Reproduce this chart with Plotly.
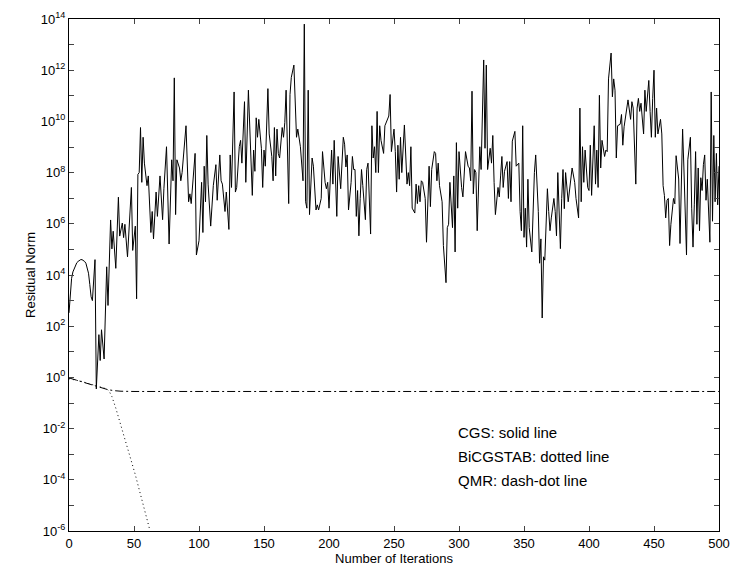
import plotly.graph_objects as go

# ---------------- data (log10 of residual norm) ----------------
cgs_iter = [0,1,2,3,4,5,6,7,8,9,10,11,12,13,14,15,16,17,18,20,21,23,24,25,27,29,30,32,33,34,36,38,39,41,42,43,45,48,49,51,52,53,54,55,56,57,58,60,61,63,64,65,67,68,70,72,73,75,77,79,80,81,82,83,85,86,87,88,90,92,93,94,95,97,98,100,102,103,104,105,106,107,109,111,113,114,116,117,118,120,121,123,124,125,127,128,129,131,132,133,135,136,138,140,141,142,143,144,145,146,148,149,150,151,153,154,156,157,158,159,160,161,162,164,165,166,167,169,170,171,172,173,175,176,178,180,181,182,183,184,185,187,188,190,191,192,194,195,197,198,199,200,202,203,204,206,207,209,211,212,213,214,215,217,218,219,220,221,222,223,224,225,226,228,229,230,232,233,234,235,236,237,238,239,240,242,243,245,246,247,248,250,251,252,253,254,255,256,258,260,261,262,263,264,266,267,268,269,270,271,272,274,275,277,278,279,281,282,283,284,285,287,288,290,291,292,293,295,296,297,298,299,300,302,303,305,307,308,309,310,311,312,313,314,316,317,319,320,321,322,324,325,326,327,328,330,331,332,333,334,335,337,338,339,340,341,343,344,346,347,348,349,350,351,352,353,354,356,357,358,359,360,361,362,363,364,365,366,368,369,370,371,373,374,375,376,378,379,380,381,382,384,385,387,389,390,392,393,394,395,396,397,399,400,401,402,404,405,406,407,408,409,410,412,413,414,415,417,418,419,420,421,422,424,425,426,427,429,430,432,433,434,436,437,438,439,440,442,443,444,445,446,447,448,449,450,451,452,453,455,456,457,458,459,460,461,462,463,465,466,467,469,470,471,472,473,474,475,476,478,479,480,481,482,483,484,485,486,487,488,489,490,491,492,493,494,495,496,497,498,499,500]
cgs_log10 = [2.52,3.39,3.87,4.12,4.26,4.38,4.48,4.53,4.58,4.60,4.60,4.58,4.53,4.46,4.31,4.07,3.63,3.15,3.0,4.60,-0.45,1.67,0.66,1.86,0.72,4.32,2.81,6.15,5.02,5.71,4.26,7.04,5.52,6.03,5.46,5.98,4.71,7.42,4.96,5.91,3.07,7.93,8.0,9.76,7.62,9.38,8.37,7.49,7.87,5.66,6.48,5.41,7.24,6.29,7.87,6.16,7.37,9.01,5.21,8.50,7.68,11.7,6.36,8.50,8.18,7.68,8.0,8.75,9.83,6.86,7.17,6.79,7.37,8.75,4.78,5.34,7.62,5.66,8.25,6.86,9.45,7.55,5.91,7.49,8.31,6.92,8.69,7.68,7.55,6.48,7.24,5.78,8.69,7.42,11.15,7.24,7.42,9.02,9.26,8.37,10.77,7.62,11.22,8.0,7.11,8.88,8.05,10.14,9.38,10.08,8.95,7.42,8.88,8.25,11.28,9.51,8.63,7.68,9.76,7.87,9.70,8.75,8.57,9.76,9.38,9.96,11.22,6.79,11.05,11.72,11.92,12.2,9.38,9.70,9.01,7.68,13.8,6.86,6.61,11.22,6.36,8.57,8.25,6.54,6.74,6.54,6.99,8.82,7.62,7.37,7.62,6.61,8.88,7.55,9.26,6.29,8.63,7.37,9.38,9.11,8.22,8.69,6.54,7.62,8.63,8.12,8.12,6.29,7.30,5.53,6.99,8.12,7.49,6.16,8.12,8.37,5.60,9.83,8.57,9.01,8.0,10.39,8.0,9.83,9.26,8.75,9.83,10.14,10.21,11.05,8.82,9.70,8.82,7.24,9.07,7.74,9.38,8.0,9.86,7.55,8.0,7.49,9.01,6.61,6.42,7.55,6.79,7.49,6.86,7.68,7.62,6.99,5.28,8.25,6.67,8.12,8.82,8.75,7.68,8.37,7.49,6.86,5.15,3.70,5.85,5.98,7.62,5.85,7.87,4.90,9.17,6.61,8.82,7.42,7.05,8.82,8.25,8.18,7.68,11.18,7.17,8.12,8.0,5.73,9.01,8.12,12.4,8.95,12.2,8.12,8.95,8.37,9.45,7.62,6.36,7.42,7.05,7.87,8.63,7.42,8.05,8.43,6.99,8.43,6.86,9.23,9.61,8.25,8.37,6.48,5.73,9.83,5.47,6.61,5.09,7.74,5.85,4.90,6.74,8.0,8.69,7.49,6.48,4.46,5.41,2.32,4.71,4.58,7.37,6.48,5.73,6.23,6.99,6.48,5.53,8.0,5.03,6.99,8.12,6.59,8.0,6.86,7.37,8.18,7.62,6.99,6.23,10.52,6.86,9.01,7.62,8.88,7.42,7.30,9.07,7.11,9.83,7.55,8.88,7.42,11.02,8.18,9.26,8.63,8.88,8.82,11.66,12.67,10.96,11.66,11.22,8.57,9.83,9.89,10.27,9.07,9.79,10.52,10.84,10.08,10.77,10.52,7.55,10.52,10.90,10.39,10.71,9.51,11.22,10.39,10.96,11.6,10.39,9.38,10.90,12.0,9.38,10.52,9.51,10.08,9.51,7.49,7.11,6.23,6.92,6.99,5.15,5.98,6.99,6.78,8.66,7.75,5.23,8.37,9.70,8.18,6.61,4.78,8.50,9.38,6.61,5.09,6.74,8.82,5.98,8.18,5.73,7.80,7.30,8.31,8.69,6.92,7.74,6.48,5.28,11.15,6.10,9.45,6.86,8.75,6.74,8.25]

bicg_iter = [0,5,10,15,20,25,29,31,33,36,39,42,45,48,51,54,57,60,62]
bicg_log10 = [-0.05,-0.1,-0.16,-0.24,-0.32,-0.4,-0.45,-0.55,-0.75,-1.2,-1.7,-2.2,-2.75,-3.27,-3.8,-4.38,-4.95,-5.55,-5.93]

qmr_iter = [0,5,10,15,20,25,30,35,40,50,100,150,200,250,300,350,400,450,500]
qmr_log10 = [-0.02,-0.1,-0.18,-0.26,-0.34,-0.42,-0.48,-0.52,-0.54,-0.55,-0.55,-0.55,-0.55,-0.55,-0.55,-0.55,-0.55,-0.55,-0.55]

x_ticks = [0, 50, 100, 150, 200, 250, 300, 350, 400, 450, 500]
y_exponents = list(range(-6, 15))
legend_lines = ["CGS: solid line", "BiCGSTAB: dotted line", "QMR: dash-dot line"]
legend_log10_y = [-2.16, -3.1, -4.04]
legend_x = 298

FONT = "Liberation Sans, Arial, Helvetica, sans-serif"

fig = go.Figure()
fig.add_trace(go.Scatter(x=cgs_iter, y=[10 ** v for v in cgs_log10], mode="lines",
                         line=dict(color="black", width=1), showlegend=False))
fig.add_trace(go.Scatter(x=bicg_iter, y=[10 ** v for v in bicg_log10], mode="lines",
                         line=dict(color="black", width=1, dash="1px,3px"), showlegend=False))
fig.add_trace(go.Scatter(x=qmr_iter, y=[10 ** v for v in qmr_log10], mode="lines",
                         line=dict(color="black", width=1, dash="8px,3px,2px,3px"), showlegend=False))

ytext = [("10<sup>%d</sup>" % e) if e % 2 == 0 else "" for e in y_exponents]

fig.update_xaxes(range=[0, 500], tickvals=x_ticks, ticks="inside", ticklen=5,
                 showline=True, linecolor="black", linewidth=1, mirror="allticks",
                 showgrid=False, zeroline=False,
                 tickfont=dict(family=FONT, size=13, color="black"),
                 title=dict(text="Number of Iterations", standoff=0,
                            font=dict(family=FONT, size=13, color="black")))
fig.update_yaxes(type="log", range=[-6, 14], tickvals=[10 ** e for e in y_exponents],
                 ticktext=ytext, ticks="inside", ticklen=5,
                 showline=True, linecolor="black", linewidth=1, mirror="allticks",
                 showgrid=False, zeroline=False,
                 tickfont=dict(family=FONT, size=13, color="black"),
                 title=dict(text="Residual Norm", standoff=2,
                            font=dict(family=FONT, size=13, color="black")))

for txt, ly in zip(legend_lines, legend_log10_y):
    fig.add_annotation(x=legend_x, y=ly, xref="x", yref="y", text=txt, showarrow=False,
                       xanchor="left", yanchor="middle",
                       font=dict(family=FONT, size=15, color="black"))

fig.update_layout(width=734, height=577, paper_bgcolor="white", plot_bgcolor="white",
                  margin=dict(l=69, r=15, t=19, b=46, autoexpand=False))

fig.write_html("out.html")
